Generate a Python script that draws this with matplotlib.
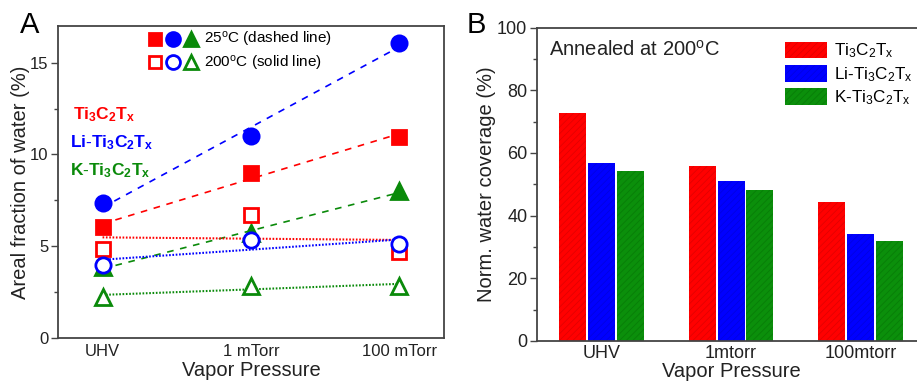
import numpy as np
import matplotlib
matplotlib.use('Agg')
import matplotlib.pyplot as plt
from matplotlib.lines import Line2D
from matplotlib.legend_handler import HandlerTuple

plt.rcParams['font.family'] = ['Liberation Sans', 'DejaVu Sans']
plt.rcParams['mathtext.fontset'] = 'custom'
plt.rcParams['mathtext.rm'] = 'Liberation Sans'
plt.rcParams['mathtext.it'] = 'Liberation Sans'
plt.rcParams['mathtext.bf'] = 'Liberation Sans:bold'
plt.rcParams['hatch.linewidth'] = 0.5

# Panel A data: areal fraction of water (%)
pressures_a = ['UHV', '1 mTorr', '100 mTorr']
ti_25 = [6.07, 8.98, 10.98]
li_25 = [7.35, 11.02, 16.1]
k_25 = [3.85, 5.7, 8.0]
ti_200 = [4.84, 6.7, 4.7]
li_200 = [4.0, 5.35, 5.1]
k_200 = [2.25, 2.85, 2.85]

# Panel B data: normalized water coverage (%) after annealing at 200 C
pressures_b = ['UHV', '1mtorr', '100mtorr']
cov_ti = [72.8, 55.8, 44.5]
cov_li = [56.7, 51.2, 34.0]
cov_k = [54.4, 48.2, 31.9]

RED = '#ff0000'
BLUE = '#0000ff'
GREEN = '#0a8a0a'
SPINE = '#444444'
TXT = '#222222'

fig = plt.figure(figsize=(9.17, 3.83), dpi=100)

# ---------------- Panel A ----------------
ax1 = fig.add_axes([0.0633, 0.1175, 0.4207, 0.8145])
x = np.arange(len(pressures_a))
ends = np.array([x[0], x[-1]])


def fit_line(vals):
    # linear trend line through the three pressures
    p = np.polyfit(x, vals, 1)
    return np.polyval(p, ends)


series = [
    (ti_25, RED, 's', True), (li_25, BLUE, 'o', True), (k_25, GREEN, '^', True),
    (ti_200, RED, 's', False), (li_200, BLUE, 'o', False), (k_200, GREEN, '^', False),
]
ms = {'s': 10, 'o': 11, '^': 11}
for vals, c, m, filled in series:
    if filled:
        ax1.plot(ends, fit_line(vals), color=c, ls=(0, (4, 4)), lw=1.2, zorder=2)
    else:
        ax1.plot(ends, fit_line(vals), color=c, ls=(0, (0.8, 0.8)), lw=1.5, zorder=2)
    ax1.plot(x, vals, ls='none', marker=m, ms=ms[m], color=c,
             mfc=c if filled else 'white', mec=c, mew=2.0, zorder=3)

ax1.set_xlim(-0.3, 2.3)
ax1.set_ylim(0, 17)
ax1.set_xticks(x)
ax1.set_xticklabels(pressures_a)
ax1.set_yticks([0, 5, 10, 15])
ax1.set_yticks([2.5, 7.5, 12.5], minor=True)
ax1.tick_params(axis='x', length=0, labelsize=12, pad=4, colors=TXT)
ax1.tick_params(axis='y', which='major', length=5, width=1, labelsize=12, pad=2, colors=TXT)
ax1.tick_params(axis='y', which='minor', length=3, width=1, colors=TXT)
ax1.tick_params(axis='y', which='both', color=SPINE)
for s in ax1.spines.values():
    s.set_color(SPINE)
    s.set_linewidth(1.3)
ax1.set_xlabel('Vapor Pressure', fontsize=14.5, labelpad=2, color=TXT)
ax1.set_ylabel('Areal fraction of water (%)', fontsize=14.5, labelpad=0, color=TXT)

filled_h = tuple(Line2D([], [], ls='none', marker=m, ms=ms[m] - 1, color=c, mfc=c, mec=c, mew=2)
                 for c, m in [(RED, 's'), (BLUE, 'o'), (GREEN, '^')])
open_h = tuple(Line2D([], [], ls='none', marker=m, ms=ms[m] - 1, color=c, mfc='white', mec=c, mew=2)
               for c, m in [(RED, 's'), (BLUE, 'o'), (GREEN, '^')])
ax1.legend([filled_h, open_h],
           [r'25$^{\rm o}$C (dashed line)', r'200$^{\rm o}$C (solid line)'],
           handler_map={tuple: HandlerTuple(ndivide=None, pad=0.15)},
           loc='upper center', bbox_to_anchor=(0.47, 1.025), frameon=False,
           fontsize=11, handlelength=3.4, handletextpad=0.3, labelspacing=0.3,
           borderpad=0.3)

ax1.text(0.12, 0.715, r'$\mathbf{Ti_3C_2T_x}$', color=RED, fontsize=12.5,
         transform=ax1.transAxes, ha='center', va='center')
ax1.text(0.03, 0.625, r'$\mathbf{Li\text{-}Ti_3C_2T_x}$', color=BLUE, fontsize=12.5,
         transform=ax1.transAxes, ha='left', va='center')
ax1.text(0.03, 0.535, r'$\mathbf{K\text{-}Ti_3C_2T_x}$', color=GREEN, fontsize=12.5,
         transform=ax1.transAxes, ha='left', va='center')

# ---------------- Panel B ----------------
ax2 = fig.add_axes([0.5856, 0.110, 0.4234, 0.8177])
xb = np.arange(len(pressures_b))
w = 0.209
off = 0.222
labels_b = [r'Ti$_3$C$_2$T$_x$', r'Li-Ti$_3$C$_2$T$_x$', r'K-Ti$_3$C$_2$T$_x$']
for vals, c, hc, o, lab in [(cov_ti, RED, '#dd0000', -off, labels_b[0]),
                            (cov_li, BLUE, '#0000dd', 0, labels_b[1]),
                            (cov_k, '#0b8f0b', '#077a07', off, labels_b[2])]:
    ax2.bar(xb + o, vals, width=w, color=c, edgecolor=hc, linewidth=0,
            hatch='/////', label=lab, zorder=2)

ax2.set_xlim(-0.5, 2.5)
ax2.set_ylim(0, 100)
ax2.set_xticks(xb)
ax2.set_xticklabels(pressures_b)
ax2.set_yticks([0, 20, 40, 60, 80, 100])
ax2.set_yticks([10, 30, 50, 70, 90], minor=True)
ax2.tick_params(axis='x', length=0, labelsize=13, pad=3, colors=TXT)
ax2.tick_params(axis='y', which='major', length=5, width=1, labelsize=13, pad=2, colors=TXT)
ax2.tick_params(axis='y', which='minor', length=3, width=1, colors=TXT)
ax2.tick_params(axis='y', which='both', color=SPINE)
for s in ax2.spines.values():
    s.set_color(SPINE)
    s.set_linewidth(1.3)
ax2.set_xlabel('Vapor Pressure', fontsize=14.5, labelpad=0, color=TXT)
ax2.set_ylabel('Norm. water coverage (%)', fontsize=14.5, labelpad=1, color=TXT)
ax2.text(0.03, 0.93, r'Annealed at 200$^{\rm o}$C', transform=ax2.transAxes,
         fontsize=14.5, ha='left', va='center', color=TXT)
ax2.legend(loc='upper left', bbox_to_anchor=(0.60, 1.005), frameon=False, fontsize=12.3,
           handlelength=2.45, handleheight=1.15, handletextpad=0.4, labelspacing=0.25)

fig.text(0.022, 0.935, 'A', fontsize=21, ha='left', va='center')
fig.text(0.509, 0.935, 'B', fontsize=21, ha='left', va='center')

fig.savefig('out.png', dpi=100)
